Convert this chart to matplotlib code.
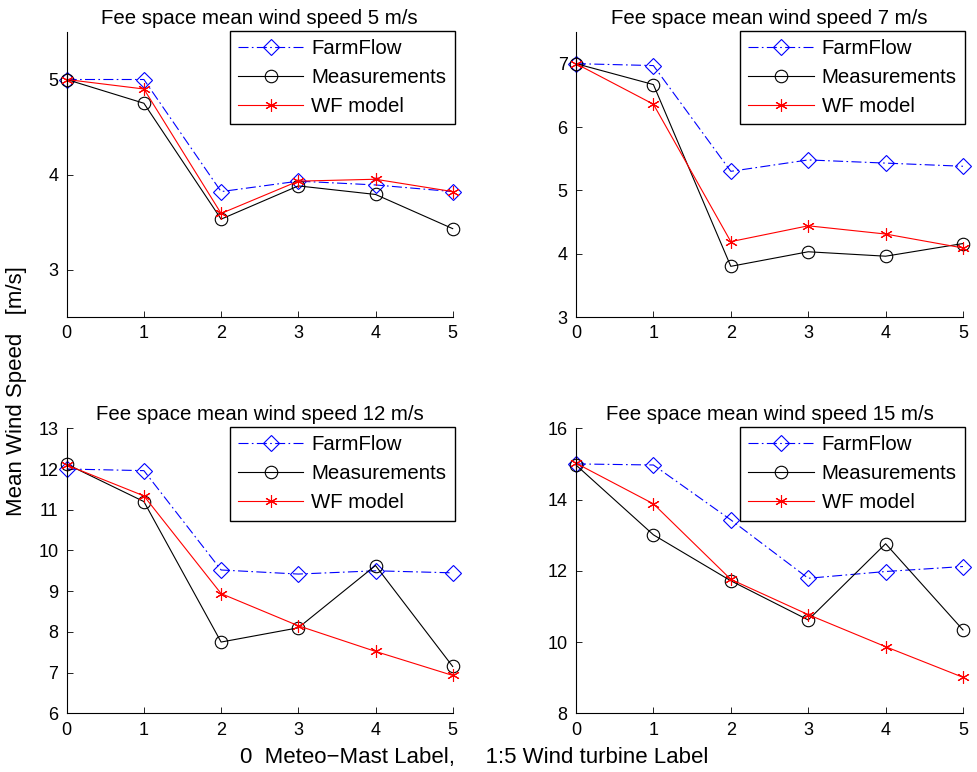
import matplotlib
matplotlib.use("Agg")
import matplotlib.pyplot as plt

plt.rcParams['font.family'] = ['Liberation Sans', 'DejaVu Sans']

positions = [0, 1, 2, 3, 4, 5]
titles = ["Fee space mean wind speed 5 m/s", "Fee space mean wind speed 7 m/s",
          "Fee space mean wind speed 12 m/s", "Fee space mean wind speed 15 m/s"]

farmflow_5 = [5.00, 5.00, 3.82, 3.93, 3.89, 3.82]
measured_5 = [5.00, 4.75, 3.53, 3.88, 3.79, 3.43]
wfmodel_5 = [5.00, 4.90, 3.59, 3.93, 3.95, 3.82]

farmflow_7 = [7.00, 6.97, 5.30, 5.48, 5.43, 5.38]
measured_7 = [7.00, 6.67, 3.80, 4.03, 3.96, 4.16]
wfmodel_7 = [7.00, 6.36, 4.19, 4.44, 4.31, 4.09]

farmflow_12 = [12.00, 11.96, 9.52, 9.42, 9.50, 9.45]
measured_12 = [12.12, 11.20, 7.75, 8.10, 9.63, 7.15]
wfmodel_12 = [12.10, 11.34, 8.94, 8.15, 7.52, 6.93]

farmflow_15 = [15.00, 14.97, 13.43, 11.79, 11.98, 12.12]
measured_15 = [14.97, 13.01, 11.72, 10.62, 12.76, 10.34]
wfmodel_15 = [15.02, 13.88, 11.76, 10.77, 9.87, 9.01]

series = [(farmflow_5, measured_5, wfmodel_5),
          (farmflow_7, measured_7, wfmodel_7),
          (farmflow_12, measured_12, wfmodel_12),
          (farmflow_15, measured_15, wfmodel_15)]

ylims = [(2.5, 5.5), (3, 7.5), (6, 13), (8, 16)]
yticks = [[3, 4, 5], [3, 4, 5, 6, 7], [6, 7, 8, 9, 10, 11, 12, 13],
          [8, 10, 12, 14, 16]]

FS = 14.7
LABEL_FS = 16

fig = plt.figure(figsize=(9.77, 7.72), dpi=100)
W, H = 977, 772
boxes = [(66.7, 32, 386, 285), (576, 32, 387, 285),
         (66.7, 428.3, 386, 285), (576, 428.3, 387, 285)]

for (x0, y0, w, h), title, (ff, ms, wf), yl, yt in zip(boxes, titles, series, ylims, yticks):
    ax = fig.add_axes([x0 / W, 1 - (y0 + h) / H, w / W, h / H])
    ax.plot(positions, ff, color='blue', linestyle=(0, (9, 3, 1.5, 3)), linewidth=0.8,
            marker='D', markersize=8, markerfacecolor='none', markeredgecolor='blue',
            markeredgewidth=0.8, label='FarmFlow')
    ax.plot(positions, ms, color='black', linestyle='-', linewidth=0.8,
            marker='o', markersize=9, markerfacecolor='none', markeredgecolor='black',
            markeredgewidth=0.8, label='Measurements')
    ax.plot(positions, wf, color='red', linestyle='-', linewidth=0.8,
            marker=(6, 2, 0), markersize=9, markeredgecolor='red',
            markeredgewidth=0.8, label='WF model')
    ax.set_xlim(0, 5)
    ax.set_ylim(*yl)
    ax.set_xticks(positions)
    ax.set_yticks(yt)
    ax.spines['top'].set_visible(False)
    ax.spines['right'].set_visible(False)
    ax.spines['left'].set_linewidth(0.8)
    ax.spines['bottom'].set_linewidth(0.8)
    ax.tick_params(direction='in', length=4, width=0.6, labelsize=13, pad=6)
    ax.set_title(title, fontsize=FS, pad=6)
    leg = ax.legend(loc='upper right', bbox_to_anchor=(1.005, 1.005), fontsize=FS,
                    fancybox=False, framealpha=1, edgecolor='black',
                    handlelength=3.2, handletextpad=0.4, borderpad=0.4,
                    labelspacing=0.5, borderaxespad=0)
    leg.get_frame().set_linewidth(1.0)
    for ln in ax.lines:
        ln.set_clip_on(False)

fig.text(17 / W, 1 - 391 / H, "Mean Wind Speed   [m/s]", rotation=90,
         ha='center', va='center', fontsize=LABEL_FS)
fig.text(474.5 / W, 1 - 758 / H, "0  Meteo\u2212Mast Label,     1:5 Wind turbine Label",
         ha='center', va='center', fontsize=LABEL_FS)

fig.savefig("out.png", dpi=100)
